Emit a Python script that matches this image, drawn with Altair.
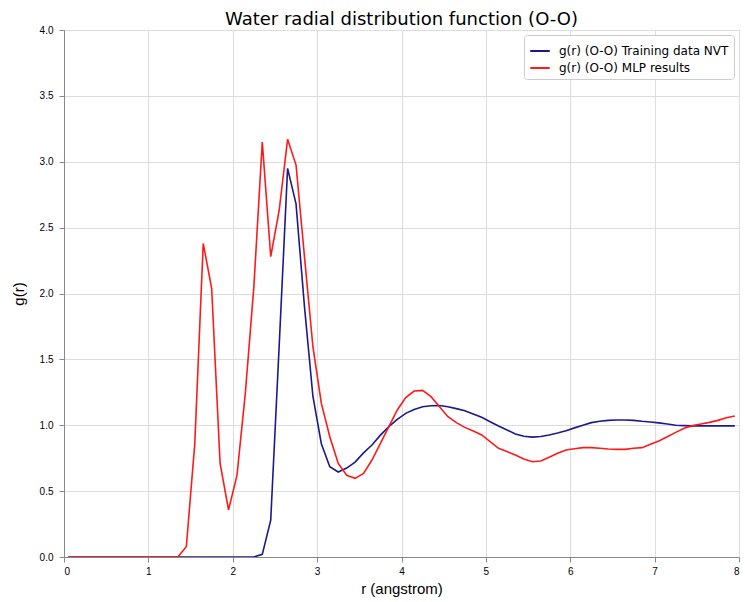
import altair as alt
import pandas as pd

r_values = [
    0.05, 0.15, 0.25, 0.35, 0.45, 0.55, 0.65, 0.75, 0.85, 0.95,
    1.05, 1.15, 1.25, 1.35, 1.45, 1.55, 1.65, 1.75, 1.85, 1.95,
    2.05, 2.15, 2.25, 2.35, 2.45, 2.55, 2.65, 2.75, 2.85, 2.95,
    3.05, 3.15, 3.25, 3.35, 3.45, 3.55, 3.65, 3.75, 3.85, 3.95,
    4.05, 4.15, 4.25, 4.35, 4.45, 4.55, 4.65, 4.75, 4.85, 4.95,
    5.05, 5.15, 5.25, 5.35, 5.45, 5.55, 5.65, 5.75, 5.85, 5.95,
    6.05, 6.15, 6.25, 6.35, 6.45, 6.55, 6.65, 6.75, 6.85, 6.95,
    7.05, 7.15, 7.25, 7.35, 7.45, 7.55, 7.65, 7.75, 7.85, 7.95,
]

g_training = [
    0, 0, 0, 0, 0, 0, 0, 0, 0, 0,
    0, 0, 0, 0, 0, 0, 0, 0, 0, 0,
    0, 0, 0, 0.02, 0.28, 1.60, 2.95, 2.68, 1.90, 1.22,
    0.86, 0.685, 0.645, 0.675, 0.72, 0.79, 0.85, 0.925, 0.99, 1.045,
    1.09, 1.12, 1.14, 1.148, 1.15, 1.14, 1.126, 1.11, 1.085, 1.06,
    1.027, 0.994, 0.964, 0.934, 0.916, 0.91, 0.915, 0.926, 0.941, 0.959,
    0.98, 1.0, 1.02, 1.03, 1.037, 1.04, 1.04, 1.037, 1.03, 1.025,
    1.018, 1.01, 1.0, 0.997, 0.995, 0.995, 0.995, 0.995, 0.995, 0.995,
]

g_mlp = [
    0, 0, 0, 0, 0, 0, 0, 0, 0, 0,
    0, 0, 0, 0, 0.08, 0.86, 2.38, 2.04, 0.71, 0.357,
    0.62, 1.25, 2.05, 3.15, 2.28, 2.63, 3.17, 2.975, 2.28, 1.596,
    1.166, 0.913, 0.71, 0.62, 0.597, 0.635, 0.736, 0.863, 0.99, 1.116,
    1.21, 1.26, 1.265, 1.217, 1.14, 1.065, 1.02, 0.984, 0.956, 0.926,
    0.875, 0.825, 0.8, 0.774, 0.744, 0.723, 0.728, 0.757, 0.787, 0.812,
    0.822, 0.83, 0.83, 0.825, 0.82, 0.817, 0.817, 0.825, 0.83, 0.855,
    0.88, 0.913, 0.946, 0.977, 0.997, 1.01, 1.022, 1.037, 1.057, 1.07,
]

series_names = ["g(r) (O-O) Training data NVT", "g(r) (O-O) MLP results"]
series_colors = ["#1a1a8c", "#ff1a1a"]

rows = []
for r, g in zip(r_values, g_training):
    rows.append({"r": r, "g": g, "series": series_names[0]})
for r, g in zip(r_values, g_mlp):
    rows.append({"r": r, "g": g, "series": series_names[1]})
df = pd.DataFrame(rows)

font = "DejaVu Sans"

chart = (
    alt.Chart(df)
    .mark_line(strokeWidth=1.6, clip=True)
    .encode(
        x=alt.X(
            "r:Q",
            scale=alt.Scale(domain=[0, 8], nice=False, zero=False),
            axis=alt.Axis(
                title="r (angstrom)",
                values=[0, 1, 2, 3, 4, 5, 6, 7, 8],
                format="d",
                titleFontSize=15,
                titleFontWeight="normal",
                titlePadding=5,
                labelPadding=4,
            ),
        ),
        y=alt.Y(
            "g:Q",
            scale=alt.Scale(domain=[0, 4], nice=False),
            axis=alt.Axis(
                title="g(r)",
                values=[0, 0.5, 1, 1.5, 2, 2.5, 3, 3.5, 4],
                format=".1f",
                titleFontSize=15,
                titleFontWeight="normal",
                titlePadding=13,
                labelPadding=6,
            ),
        ),
        color=alt.Color(
            "series:N",
            scale=alt.Scale(domain=series_names, range=series_colors),
            sort=series_names,
            legend=alt.Legend(
                title=None,
                orient="top-right",
                offset=5,
                symbolType="stroke",
                symbolStrokeWidth=2,
                symbolSize=380,
                labelFontSize=12,
                labelFont=font,
                labelLimit=400,
                labelOffset=8,
                strokeColor="#cccccc",
                fillColor="white",
                padding=5,
                cornerRadius=3,
                rowPadding=0,
            ),
        ),
        order=alt.Order("r:Q"),
    )
    .properties(
        width=675,
        height=527,
        title=alt.TitleParams(
            "Water radial distribution function (O-O)",
            fontSize=18,
            fontWeight="normal",
            font=font,
            anchor="middle",
            frame="group",
            offset=-4,
            color="black",
        ),
        padding={"left": 64, "top": 30, "right": 6, "bottom": 45},
        autosize="none",
    )
    .configure_axis(
        labelFont=font,
        titleFont=font,
        labelFontSize=11,
        labelColor="black",
        titleColor="black",
        domainColor="black",
        tickColor="black",
        tickSize=3.5,
        grid=True,
        gridColor="#ebebeb",
    )
    .configure_view(stroke="black", strokeWidth=1)
    .configure(background="white")
)

chart.save("out.html", embed_options={"renderer": "svg", "actions": False})
